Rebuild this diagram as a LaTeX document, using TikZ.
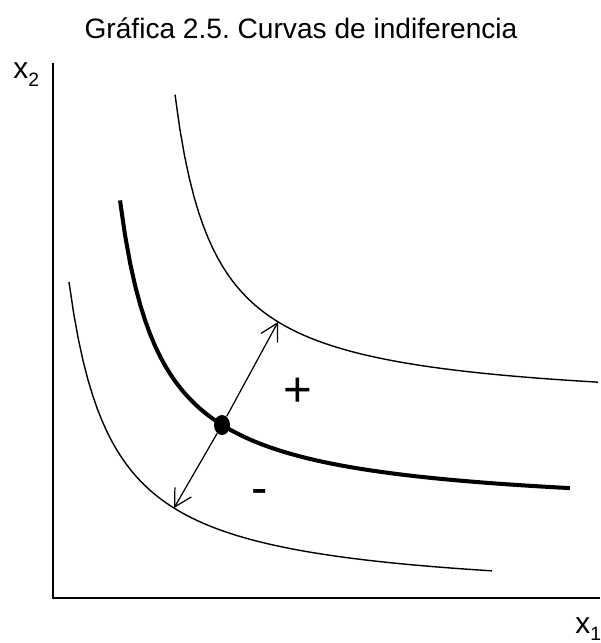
\documentclass[tikz,border=0pt]{standalone}
\usepackage{fontspec}
\setmainfont{Liberation Sans}
\usepackage{tikz}
\usetikzlibrary{arrows.meta,shapes.geometric}

\begin{document}
\begin{tikzpicture}[x=0.02cm, y=-0.02cm,
    curve/.style={line width=0.8pt},
    main curve/.style={line width=2.3pt},
    axis/.style={line width=1.1pt},
    move/.style={line width=0.7pt, -{Straight Barb[length=3.4mm, width=3.8mm]}},
    dot/.style={ellipse, fill=black, inner sep=0pt, minimum width=0.32cm, minimum height=0.4cm},
    lbl/.style={font=\fontsize{17}{20}\selectfont, inner sep=0pt},
    sign/.style={font=\fontsize{28}{32}\selectfont, inner sep=0pt}]
  \useasboundingbox (0,0) rectangle (600,643);

  % Title
  \node[lbl, font=\fontsize{16}{19}\selectfont, anchor=base] (title) at (301,38) {Gráfica 2.5.\ Curvas de indiferencia};

  % Axes
  \coordinate (y-end) at (53,63);
  \coordinate (o) at (53,598);
  \coordinate (x-end) at (600,598);
  \draw[axis] (y-end) -- (o) -- (x-end);
  \node[lbl, anchor=base west] (lab-x2) at (13,78) {x\raisebox{-5pt}{\fontsize{11}{12}\selectfont 2}};
  \node[lbl, anchor=base west] (lab-x1) at (575,633) {x\raisebox{-4pt}{\fontsize{11}{12}\selectfont 1}};

  % Indifference curves
  \draw[curve] plot[domain=69:492, samples=90] (\x, {600-13580/(\x-26.3)});
  \draw[main curve] plot[domain=120:570, samples=90] (\x, {514-12700/(\x-79.5)});
  \draw[curve] plot[domain=175:598, samples=90] (\x, {409-12420/(\x-135.5)});

  % Point and directions
  \node[dot] (pt) at (222,425) {};
  \coordinate (up) at (278,322);
  \coordinate (down) at (174,508);
  \draw[move] (pt) -- (up);
  \draw[move] (pt) -- (down);

  \node[sign] (plus) at (298,392) {+};
  \node[sign] (minus) at (260,497) {-};
\end{tikzpicture}
\end{document}
